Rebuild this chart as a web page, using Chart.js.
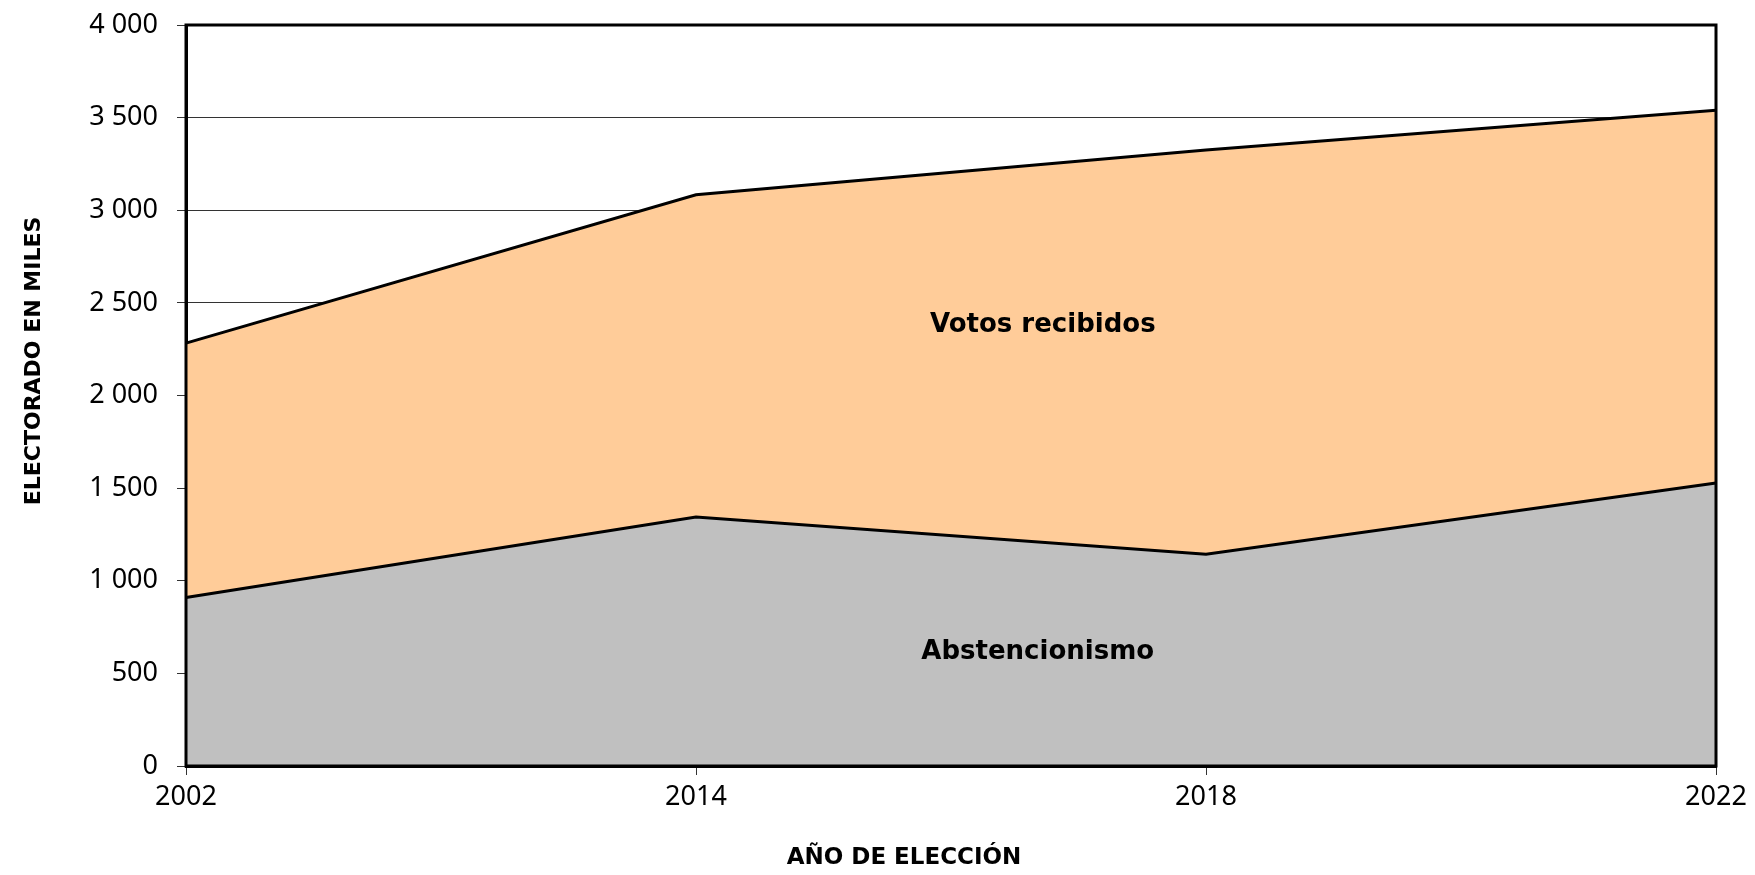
<!DOCTYPE html>
<html>
<head>
<meta charset="utf-8">
<script src="https://cdn.jsdelivr.net/npm/chart.js@4/dist/chart.umd.min.js"></script>
<style>
  html, body { margin: 0; padding: 0; background: #ffffff; }
  #wrap { width: 1755px; height: 875px; }
</style>
</head>
<body>
<div id="wrap"><canvas id="c" width="1755" height="875"></canvas></div>
<script>
const years = ['2002', '2014', '2018', '2022'];
const abstencionismo = [910, 1344, 1143, 1528];
const votosRecibidos = [1373, 1740, 2182, 2012];
const yTicks = [0, 500, 1000, 1500, 2000, 2500, 3000, 3500, 4000];
const xTitle = 'AÑO DE ELECCIÓN';
const yTitle = 'ELECTORADO EN MILES';
const areaLabels = [
  { text: 'Votos recibidos', xIndex: 1.68, y: 2380 },
  { text: 'Abstencionismo', xIndex: 1.67, y: 615 }
];

const tickFont = { family: "'Noto Sans', sans-serif", size: 27 };
const xTitleFont = 'bold 23px "DejaVu Sans"';
const yTitleFont = 'bold 22px "DejaVu Sans"';
const labelFont = 'bold 26px "DejaVu Sans"';

function fmt(v) { return String(v).replace(/\B(?=(\d{3})+(?!\d))/g, ' '); }

const overlay = {
  id: 'overlay',
  afterDatasetsDraw(chart) {
    const { ctx, chartArea: a, scales } = chart;
    ctx.save();
    ctx.strokeStyle = '#000';
    ctx.lineWidth = 3;
    ctx.strokeRect(a.left, a.top, a.right - a.left, a.bottom - a.top);
    ctx.fillStyle = '#000';
    ctx.textAlign = 'center';
    ctx.textBaseline = 'middle';
    ctx.font = labelFont;
    for (const l of areaLabels) {
      ctx.fillText(l.text, scales.x.getPixelForValue(l.xIndex), scales.y.getPixelForValue(l.y));
    }
    ctx.font = xTitleFont;
    ctx.fillText(xTitle, 904, 858);
    ctx.font = yTitleFont;
    ctx.translate(34, 361);
    ctx.rotate(-Math.PI / 2);
    ctx.fillText(yTitle, 0, 0);
    ctx.restore();
  }
};

new Chart(document.getElementById('c'), {
  type: 'line',
  data: {
    labels: years,
    datasets: [
      {
        label: 'Abstencionismo',
        data: abstencionismo,
        fill: 'origin',
        backgroundColor: '#C0C0C0',
        borderColor: '#000',
        borderWidth: 3,
        pointRadius: 0,
        tension: 0
      },
      {
        label: 'Votos recibidos',
        data: votosRecibidos,
        fill: '-1',
        backgroundColor: '#FFCC99',
        borderColor: '#000',
        borderWidth: 3,
        pointRadius: 0,
        tension: 0
      }
    ]
  },
  options: {
    responsive: false,
    animation: false,
    layout: { padding: { left: 0, right: 39, top: 25, bottom: 0 } },
    plugins: { legend: { display: false }, tooltip: { enabled: false } },
    scales: {
      x: {
        offset: false,
        grid: { drawOnChartArea: false, drawTicks: true, tickLength: 9, color: '#333', lineWidth: 1 },
        border: { display: true, color: '#000', width: 3 },
        ticks: { font: tickFont, color: '#000', padding: 6, maxRotation: 0 },
        afterFit(s) { s.height = 109; s.paddingLeft = 0; s.paddingRight = 0; }
      },
      y: {
        stacked: true,
        min: 0,
        max: 4000,
        afterBuildTicks(s) { s.ticks = yTicks.map(v => ({ value: v })); },
        grid: { color: '#333', lineWidth: 1, tickLength: 9, drawTicks: true },
        border: { display: true, color: '#000', width: 3 },
        ticks: { font: tickFont, color: '#000', padding: 19, callback: v => fmt(v) },
        afterFit(s) { s.width = 186; s.paddingTop = 0; s.paddingBottom = 0; }
      }
    }
  },
  plugins: [overlay]
});
</script>
</body>
</html>
